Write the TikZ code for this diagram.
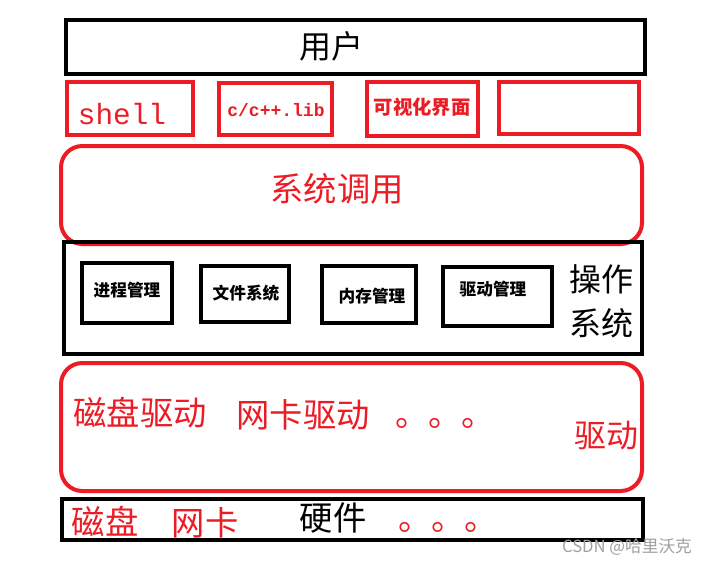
\documentclass[tikz,border=0pt]{standalone}
\usepackage{fontspec}
\setmainfont{Noto Sans CJK SC}
\newfontfamily\monofnt{Liberation Mono}
\newfontfamily\wmfont{Noto Sans CJK SC}
\definecolor{pred}{HTML}{ED1C24}
\definecolor{wm}{HTML}{A0A0A0}
\begin{document}
\begin{tikzpicture}[x=0.75pt,y=-0.75pt,
  blk/.style={draw=black,line width=3.6pt},
  rbx/.style={draw=pred,line width=3pt},
  rtxt/.style={text=pred,inner sep=0pt},
  btxt/.style={text=black,inner sep=0pt}]
\useasboundingbox[fill=white] (0,0) rectangle (711,564);
% user
\draw[blk] (66,20) rectangle (645,74);
\node[btxt,font=\fontsize{24}{24}\selectfont] (user) at (331,46) {用户};
% row of red boxes
\draw[rbx] (67,82) rectangle (193,135);
\node[rtxt,font=\monofnt\fontsize{22}{22}\selectfont] (shell) at (122,114) {shell};
\draw[rbx] (219,83) rectangle (332,135);
\node[rtxt,font=\monofnt\bfseries\fontsize{13.5}{13.5}\selectfont] (lib) at (276,110) {c/c++.lib};
\draw[rbx] (367,82) rectangle (478,136);
\node[rtxt,font=\bfseries\fontsize{14.5}{14.5}\selectfont] (gui) at (422,107) {可视化界面};
\draw[rbx] (499,82) rectangle (639,134);
% system call
\draw[rbx,rounded corners=16] (61,146) rectangle (642,244);
\node[rtxt,font=\fontsize{25}{25}\selectfont] (syscall) at (337,189) {系统调用};
% OS
\draw[blk] (64,242) rectangle (642,354);
\draw[blk] (82,263) rectangle (172,323);
\node[btxt,font=\bfseries\fontsize{12.5}{12.5}\selectfont] (p1) at (127,290) {进程管理};
\draw[blk] (201,266) rectangle (289,322);
\node[btxt,font=\bfseries\fontsize{12.5}{12.5}\selectfont] (p2) at (246,293) {文件系统};
\draw[blk] (322,266) rectangle (416,323);
\node[btxt,font=\bfseries\fontsize{12.5}{12.5}\selectfont] (p3) at (372,296) {内存管理};
\draw[blk] (443,267) rectangle (552,326);
\node[btxt,font=\bfseries\fontsize{12.5}{12.5}\selectfont] (p4) at (493,289) {驱动管理};
\node[btxt,font=\fontsize{24}{24}\selectfont] (os1) at (601,279) {操作};
\node[btxt,font=\fontsize{24}{24}\selectfont] (os2) at (601,323) {系统};
% drivers
\draw[rbx,rounded corners=16] (61,363) rectangle (642,491);
\node[rtxt,font=\fontsize{25}{25}\selectfont] (d1) at (140,413) {磁盘驱动};
\node[rtxt,font=\fontsize{25}{25}\selectfont] (d2) at (303,415) {网卡驱动};
\node[rtxt,font=\fontsize{25}{25}\selectfont] (d3) at (445,423) {。。。};
\node[rtxt,font=\fontsize{24}{24}\selectfont] (d4) at (606,436) {驱动};
% hardware
\draw[blk] (62,499) rectangle (643,540);
\node[rtxt,font=\fontsize{25}{25}\selectfont] (h1) at (105,521) {磁盘};
\node[rtxt,font=\fontsize{25}{25}\selectfont] (h2) at (205,523) {网卡};
\node[btxt,font=\fontsize{25}{25}\selectfont] (h3) at (333,518) {硬件};
\node[rtxt,font=\fontsize{25}{25}\selectfont] (h4) at (448,527) {。。。};
% watermark
\node[text=wm,inner sep=0pt,font=\wmfont\fontsize{12.5}{12.5}\selectfont] (wmk) at (627,547) {CSDN @哈里沃克};
\end{tikzpicture}
\end{document}
